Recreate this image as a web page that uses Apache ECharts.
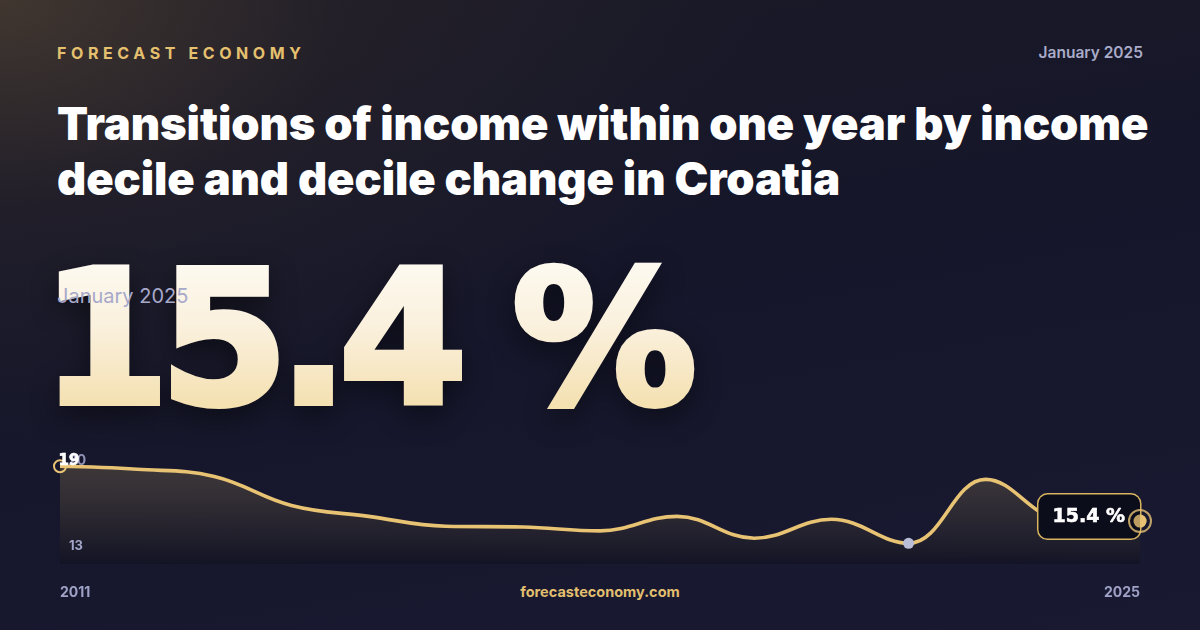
<!DOCTYPE html>
<html>
<head>
<meta charset="utf-8">
<script src="https://cdn.jsdelivr.net/npm/echarts@6/dist/echarts.min.js"></script>
<style>
  html, body { margin:0; padding:0; }
  body {
    width:1200px; height:630px; overflow:hidden; position:relative;
    font-family: Inter, "Noto Sans", sans-serif;
    background:
      radial-gradient(ellipse 760px 460px at 0% 0%, rgba(96,78,56,0.55) 0%, rgba(60,50,45,0.25) 45%, rgba(0,0,0,0) 100%),
      linear-gradient(170deg, #1b1a26 0%, #15162a 45%, #191a32 100%);
  }
  .abs { position:absolute; white-space:nowrap; }
  #brand { left:57px; top:45px; font-size:16px; line-height:16px; font-weight:700; letter-spacing:4.6px; color:#e5c06e; }
  #dateTop { right:57px; top:45px; font-size:15.5px; line-height:16px; font-weight:600; color:#a9abc8; }
  #title { left:57px; top:96px; font-size:45.3px; line-height:55px; font-weight:900; color:#ffffff; letter-spacing:-0.1px; }
  #bigsvg { position:absolute; left:0; top:220px; width:800px; height:220px; overflow:visible;
    filter: drop-shadow(0 10px 14px rgba(0,0,0,0.45)); }
  #dateOver { left:57px; top:286px; font-size:20px; line-height:20px; font-weight:400; color:#a7a9cb; }
  #site { left:0; width:1200px; text-align:center; top:584px; font-size:14.5px; line-height:16px; font-weight:700; color:#e2bf6e; }
  #chart { position:absolute; left:0; top:0; width:1200px; height:630px; }
</style>
</head>
<body>
<div id="brand" class="abs">FORECAST ECONOMY</div>
<div id="dateTop" class="abs">January 2025</div>
<div id="title" class="abs">Transitions of income within one year by income<br>decile and decile change in Croatia</div>
<svg id="bigsvg" xmlns="http://www.w3.org/2000/svg" viewBox="0 0 800 220">
  <defs>
    <linearGradient id="bg" x1="0" y1="0" x2="0" y2="1">
      <stop offset="0" stop-color="#fffefa"/>
      <stop offset="0.45" stop-color="#faf0dc"/>
      <stop offset="1" stop-color="#f1d89a"/>
    </linearGradient>
  </defs>
  <text id="bigtext" x="41" y="183" font-family="DejaVu Sans, sans-serif" font-weight="bold" font-size="185"
        letter-spacing="-10" fill="url(#bg)" stroke="url(#bg)" stroke-width="6" stroke-linejoin="miter" stroke-miterlimit="4">15.4 %</text>
</svg>
<div id="dateOver" class="abs">January 2025</div>
<div id="site" class="abs">forecasteconomy.com</div>
<div id="chart"></div>
<script>
const years = ['2011','2012','2013','2014','2015','2016','2017','2018','2019','2020','2021','2022','2023','2024','2025'];
const values = [19.1, 18.9, 18.42, 16.46, 15.72, 15.05, 15.0, 14.74, 15.72, 14.24, 15.52, 13.9, 18.22, 15.5, 15.4];
const yTickLabels = ['20', '13'];
const xTickLabels = ['2011', '2025'];
const lastLabel = '15.4 %';

const GOLD = '#e8c374';
const HEAVY = '"DejaVu Sans", sans-serif';
const last = values.length - 1;
let minIdx = 0;
values.forEach((v, i) => { if (v < values[minIdx]) minIdx = i; });

const lineData = values.map((v, i) => {
  if (i === 0) {
    return { value: v, symbol: 'circle', symbolSize: 12,
      itemStyle: { color: 'rgba(0,0,0,0)', borderColor: GOLD, borderWidth: 2 },
      label: { show: true, formatter: String(Math.round(v)), position: [16, 2], align: 'center', verticalAlign: 'middle',
        color: '#ffffff', fontSize: 15, fontWeight: 'bold', fontFamily: HEAVY,
        textBorderColor: '#ffffff', textBorderWidth: 0.6 } };
  }
  if (i === minIdx) {
    return { value: v, symbol: 'circle', symbolSize: 11, itemStyle: { color: '#b9bdd8', borderWidth: 0 } };
  }
  if (i === last) {
    return { value: v, symbol: 'circle', symbolSize: 13, itemStyle: { color: GOLD, borderWidth: 0 },
      label: { show: true, formatter: lastLabel, position: [6.5, 2], align: 'right', verticalAlign: 'middle',
        color: '#ffffff', fontSize: 19, lineHeight: 20, fontWeight: 'bold', fontFamily: HEAVY,
        textBorderColor: '#ffffff', textBorderWidth: 0.6,
        backgroundColor: '#0c0d1b', borderColor: '#d8b45f', borderWidth: 1.5, borderRadius: 9,
        padding: [12, 15, 12, 14] } };
  }
  return { value: v };
});

const chart = echarts.init(document.getElementById('chart'), null, { renderer: 'canvas' });
chart.setOption({
  backgroundColor: 'transparent',
  animation: false,
  grid: { left: 60, right: 60, top: 445.6, height: 118.4 },
  xAxis: {
    type: 'category', data: years, boundaryGap: false,
    axisLine: { show: false }, axisTick: { show: false }, splitLine: { show: false },
    axisLabel: {
      show: true, margin: 22, color: '#9fa2c6', fontSize: 14, fontWeight: 700, fontFamily: 'Inter',
      interval: (idx, val) => xTickLabels.indexOf(val) >= 0,
      alignMinLabel: 'left', alignMaxLabel: 'right', showMinLabel: true, showMaxLabel: true
    }
  },
  yAxis: { type: 'value', min: 12.5, max: 20.5, show: false, splitLine: { show: false } },
  graphic: [
    { type: 'text', left: 68, top: 454, z: 0,
      style: { text: yTickLabels[0], fill: '#8e91b4', fontSize: 14, fontWeight: 700, fontFamily: 'Inter' } },
    { type: 'text', left: 69, top: 540, z: 5,
      style: { text: yTickLabels[1], fill: '#a3a6c8', fontSize: 13, fontWeight: 700, fontFamily: 'Inter' } }
  ],
  series: [
    {
      type: 'line', data: lineData, smooth: 0.4, symbol: 'none', showSymbol: true,
      lineStyle: { color: GOLD, width: 3.6 },
      areaStyle: {
        color: new echarts.graphic.LinearGradient(0, 0, 0, 1, [
          { offset: 0, color: 'rgba(232,195,116,0.27)' },
          { offset: 1, color: 'rgba(6,6,10,0.35)' }
        ])
      },
      z: 3
    },
    {
      type: 'scatter', data: [[years[last], values[last]]], symbol: 'circle', symbolSize: 22, zlevel: 1,
      itemStyle: { color: 'rgba(0,0,0,0)', borderColor: GOLD, borderWidth: 2 }, silent: true
    },
    {
      type: 'scatter', data: [[years[last], values[last]]], symbol: 'circle', symbolSize: 13, zlevel: 1,
      itemStyle: { color: GOLD }, silent: true
    }
  ]
});
</script>
</body>
</html>
